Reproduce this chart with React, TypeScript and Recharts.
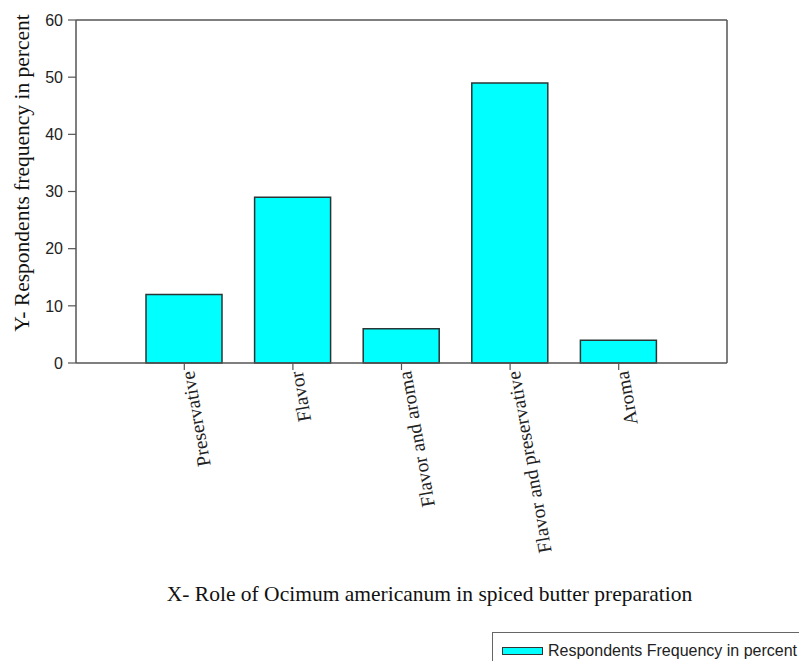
import React from "react";
import { Bar, BarChart, Legend, XAxis, YAxis } from "recharts";

const categories = [
  "Preservative",
  "Flavor",
  "Flavor and aroma",
  "Flavor and preservative",
  "Aroma",
];
const frequencyPercent = [12, 29, 6, 49, 4];
const yTicks = [0, 10, 20, 30, 40, 50, 60];

const seriesName = "Respondents Frequency in percent";
const xTitle = "X- Role of Ocimum americanum in spiced butter preparation";
const yTitle = "Y- Respondents frequency in percent";

const data = categories.map((name, i) => ({ name, value: frequencyPercent[i] }));

const SERIF = "'Liberation Serif', 'Times New Roman', serif";
const SANS = "'Liberation Sans', Arial, sans-serif";
const AXIS = "#555";
const CYAN = "#00ffff";

function RotatedTick(props: any) {
  const { x, y, payload } = props;
  return (
    <text
      x={x}
      y={y}
      transform={`rotate(-100, ${x}, ${y})`}
      textAnchor="end"
      dy="0.5em"
      fontFamily={SERIF}
      fontSize={19.5}
      fill="#222"
    >
      {payload.value}
    </text>
  );
}

function XTitle(props: any) {
  const vb = props.viewBox;
  return (
    <text
      x={vb.x + vb.width / 2 + 28}
      y={594}
      textAnchor="middle"
      dominantBaseline="central"
      fontFamily={SERIF}
      fontSize={21.5}
      fill="#111"
    >
      {xTitle}
    </text>
  );
}

function YTitle() {
  return (
    <text
      x={22}
      y={173}
      transform="rotate(-90, 22, 173)"
      textAnchor="middle"
      dominantBaseline="central"
      fontFamily={SERIF}
      fontSize={21.5}
      fill="#111"
    >
      {yTitle}
    </text>
  );
}

function LegendBox() {
  return (
    <div
      style={{
        boxSizing: "border-box",
        width: 330,
        height: 40,
        border: "1px solid #666",
        position: "relative",
        fontFamily: SANS,
        fontSize: 16,
        color: "#222",
      }}
    >
      <div
        style={{
          position: "absolute",
          left: 9,
          top: 14,
          width: 41,
          height: 8,
          boxSizing: "border-box",
          background: CYAN,
          border: "1px solid #333",
        }}
      />
      <span
        style={{ position: "absolute", left: 55, top: 9, lineHeight: "18px", whiteSpace: "nowrap" }}
      >
        {seriesName}
      </span>
    </div>
  );
}

export default function App() {
  return (
    <div
      style={{
        position: "absolute",
        left: 0,
        top: 0,
        width: 799,
        height: 661,
        background: "#fff",
        overflow: "hidden",
      }}
    >
      <BarChart
        width={799}
        height={661}
        data={data}
        margin={{ top: 19, right: 71, bottom: 0, left: 0 }}
        barSize={76}
      >
        <XAxis
          dataKey="name"
          height={298}
          padding={{ left: 54, right: 54 }}
          interval={0}
          tickSize={7}
          tickMargin={2}
          tick={<RotatedTick />}
          axisLine={{ stroke: AXIS, strokeWidth: 1.5 }}
          tickLine={{ stroke: AXIS, strokeWidth: 1.2 }}
          label={{ content: (p: any) => <XTitle {...p} /> }}
        />
        <XAxis
          xAxisId="top"
          orientation="top"
          dataKey="name"
          height={1}
          tick={false}
          tickLine={false}
          padding={{ left: 54, right: 54 }}
          axisLine={{ stroke: AXIS, strokeWidth: 1.5 }}
        />
        <YAxis
          width={76}
          domain={[0, 60]}
          ticks={yTicks}
          tickSize={8}
          tickMargin={5}
          axisLine={{ stroke: AXIS, strokeWidth: 1.5 }}
          tickLine={{ stroke: AXIS, strokeWidth: 1.2 }}
          tick={{ fontFamily: SANS, fontSize: 16, fill: "#222" }}
          label={{ content: () => <YTitle /> }}
        />
        <YAxis
          yAxisId="right"
          orientation="right"
          width={1}
          domain={[0, 60]}
          tick={false}
          tickLine={false}
          axisLine={{ stroke: AXIS, strokeWidth: 1.5 }}
        />
        <Legend
          layout="horizontal"
          verticalAlign="middle"
          align="center"
          wrapperStyle={{ left: 492, top: 632, width: 330, height: 40 }}
          content={() => <LegendBox />}
        />
        <Bar
          dataKey="value"
          name={seriesName}
          fill={CYAN}
          stroke="#2b3535"
          strokeWidth={1.5}
          isAnimationActive={false}
        />
      </BarChart>
    </div>
  );
}
